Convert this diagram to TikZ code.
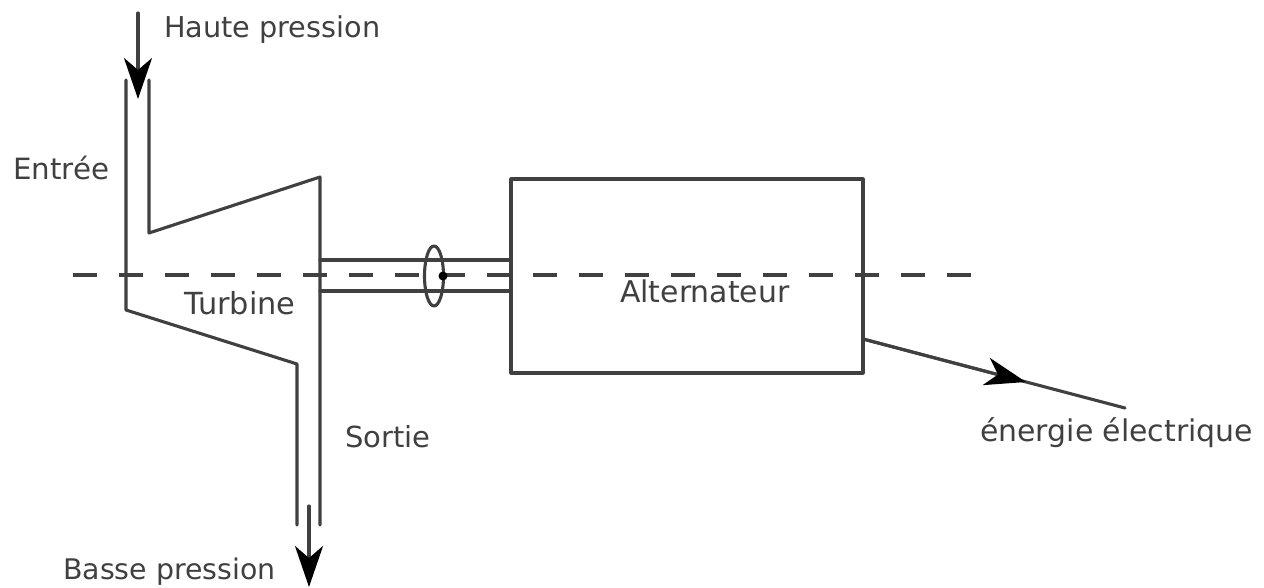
\documentclass[tikz,border=0pt]{standalone}
\usepackage{fontspec}
\setmainfont{DejaVu Sans}
\usetikzlibrary{arrows.meta}
\tikzset{
  ln/.style={draw=black!75,line width=3.1pt,line cap=round,line join=round},
  flow/.style={ln,-{Stealth[length=41pt,width=28pt,inset=12pt,color=black]}},
  lab/.style={text=black!75,inner sep=0pt,anchor=base west},
  fs/.style={font=\fontsize{#1pt}{34pt}\selectfont}
}
\begin{document}
\begin{tikzpicture}[x=1pt,y=-1pt]
\useasboundingbox (0,0) rectangle (1264,587);
% named coordinates
\coordinate (inA) at (138,13);
\coordinate (inB) at (138,99);
\coordinate (outA) at (309,506);
\coordinate (outB) at (309,587);
\coordinate (oA) at (863,339);
\coordinate (oB) at (1125,408);
\coordinate (oM) at (1026,382);
\coordinate (axisA) at (73,275);
\coordinate (axisB) at (974,275);
% turbine
\draw[ln] (126,80) -- (126,310) -- (297,364) -- (297,525);
\draw[ln] (149,80) -- (149,233) -- (320,177) -- (320,525);
% shaft
\draw[ln] (320,260) -- (511,260);
\draw[ln] (320,291) -- (511,291);
% alternator
\node[ln,draw,minimum width=352pt,minimum height=194pt,inner sep=0pt,outer sep=0pt,anchor=north west] (alt) at (511,179) {};
% axis
\draw[ln,line cap=butt,dash pattern=on 24pt off 22pt] (axisA) -- (axisB);
% rotation ring
\draw[ln] (434,276) ellipse [x radius=9.5pt,y radius=30pt];
\node[fill=black,circle,inner sep=0pt,minimum size=9pt] (dot) at (443,276) {};
% arrows
\draw[flow] (inA) -- (inB);
\draw[flow] (outA) -- (outB);
\draw[ln] (oA) -- (oB);
\draw[flow] (oA) -- (oM);
% labels
\node[lab,fs=28.7] (n1) at (164,37) {Haute pression};
\node[lab,fs=29.3] (n2) at (13,179) {Entrée};
\node[lab,fs=30.4] (n3) at (184,314) {Turbine};
\node[lab,fs=29.9] (n4) at (620,302) {Alternateur};
\node[lab,fs=29] (n5) at (345,447) {Sortie};
\node[lab,fs=29.9] (n6) at (980,441) {énergie électrique};
\node[lab,fs=28.4] (n7) at (63,579) {Basse pression};
\end{tikzpicture}
\end{document}
